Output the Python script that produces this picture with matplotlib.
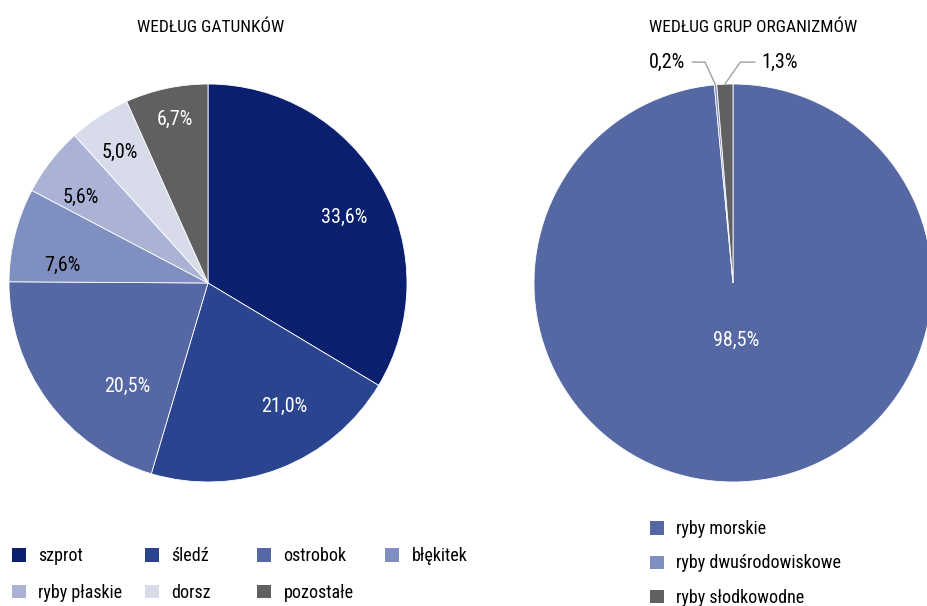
import matplotlib
matplotlib.use("Agg")
import matplotlib.pyplot as plt
from matplotlib import font_manager
import numpy as np

# szukamy czcionki waskiej
nazwy = set(f.name for f in font_manager.fontManager.ttflist)
kandydaci = ['Liberation Sans Narrow', 'Roboto Condensed', 'Open Sans Condensed',
             'DejaVu Sans Condensed', 'Liberation Sans']
czcionka = [k for k in kandydaci if k in nazwy][0]
plt.rcParams['font.family'] = [czcionka, 'DejaVu Sans']
plt.rcParams['font.stretch'] = 'condensed'

# dane - wedlug gatunkow
gatunki = ['szprot', 'śledź', 'ostrobok', 'błękitek', 'ryby płaskie', 'dorsz', 'pozostałe']
gatunki_proc = [33.6, 21.0, 20.5, 7.6, 5.6, 5.0, 6.7]
gatunki_kolory = ['#0b1f6f', '#2a4490', '#5568a3', '#7f8fbf', '#aab3d5', '#d7dbea', '#606060']
gatunki_tekst = ['white', 'white', 'white', 'black', 'black', 'black', 'white']

# dane - wedlug grup organizmow
grupy = ['ryby morskie', 'ryby dwuśrodowiskowe', 'ryby słodkowodne']
grupy_proc = [98.5, 0.2, 1.3]
grupy_kolory = ['#5568a3', '#7f8fbf', '#606060']

W, H = 928, 606
fig = plt.figure(figsize=(W / 100, H / 100), dpi=100)

def fmt(v):
    return ('%.1f%%' % v).replace('.', ',')

R = 199
PAD = 12
def pie_axes(cx, cy):
    s = R + PAD
    return fig.add_axes([(cx - s) / W, (H - cy - s) / H, 2 * s / W, 2 * s / H])

lim = (R + PAD) / R

# lewy wykres
ax1 = pie_axes(208, 283)
w1, _ = ax1.pie(gatunki_proc, colors=gatunki_kolory, startangle=90, counterclock=False,
                wedgeprops=dict(edgecolor='white', linewidth=0.6))
# polozenie etykiet: odleglosc od srodka i przesuniecie kata
dists = [0.76, 0.73, 0.66, 0.74, 0.77, 0.79, 0.84]
przes = [-3.8, 10.3, 15.3, 7.0, 3.9, 1.0, -0.5]
for w, v, d, p, c in zip(w1, gatunki_proc, dists, przes, gatunki_tekst):
    ang = np.deg2rad((w.theta1 + w.theta2) / 2 + p)
    ax1.text(d * np.cos(ang), d * np.sin(ang), fmt(v), ha='center', va='center',
             color=c, fontsize=14.5)
ax1.set_xlim(-lim, lim)
ax1.set_ylim(-lim, lim)
ax1.set_aspect('equal')
fig.text(211 / W, 1 - 27 / H, 'WEDŁUG GATUNKÓW', ha='center', va='center', fontsize=12.5)

# prawy wykres
ax2 = pie_axes(733, 283)
w2, _ = ax2.pie(grupy_proc, colors=grupy_kolory, startangle=90, counterclock=False,
                wedgeprops=dict(edgecolor='white', linewidth=0.6))
ax2.set_xlim(-lim, lim)
ax2.set_ylim(-lim, lim)
ax2.set_aspect('equal')
fig.text(753 / W, 1 - 27 / H, 'WEDŁUG GRUP ORGANIZMÓW', ha='center', va='center', fontsize=12.5)

ang = np.deg2rad((w2[0].theta1 + w2[0].theta2) / 2)
ax2.text(0.29 * np.cos(ang), 0.29 * np.sin(ang), fmt(grupy_proc[0]), ha='center', va='center',
         color='white', fontsize=14.5)
# male wycinki z liniami
for w, v, tx, side, kat in [(w2[1], grupy_proc[1], -0.24, 'right', 115),
                            (w2[2], grupy_proc[2], 0.145, 'left', 55)]:
    a = np.deg2rad((w.theta1 + w.theta2) / 2)
    ax2.annotate(fmt(v), xy=(np.cos(a), np.sin(a)), xytext=(tx, 1.11), ha=side, va='center',
                 fontsize=14.5,
                 arrowprops=dict(arrowstyle='-', color='#a0a0a0', lw=1, shrinkA=3, shrinkB=0,
                                 connectionstyle='angle,angleA=0,angleB=%d' % kat),
                 annotation_clip=False)

# legenda lewa - osobna kolumna dla kazdej pozycji x
kolumny = [[0, 4], [1, 5], [2, 6], [3]]
kol_x = [5, 138, 250, 378]
for idx, x in zip(kolumny, kol_x):
    lg = fig.legend([w1[i] for i in idx], [gatunki[i] for i in idx], loc='upper left',
                    bbox_to_anchor=(x / W, 66 / H), borderaxespad=0, borderpad=0.4,
                    frameon=False, fontsize=13, handlelength=0.75, handleheight=0.75,
                    handletextpad=0.7, labelspacing=1.05)
    for h in lg.legend_handles:
        h.set_edgecolor('none')

leg2 = fig.legend(w2, grupy, loc='upper left', bbox_to_anchor=(643 / W, 93 / H), ncol=1,
                  borderaxespad=0, borderpad=0.4,
                  frameon=False, fontsize=13, handlelength=0.75, handleheight=0.75,
                  handletextpad=0.7, labelspacing=0.9)
for h in leg2.legend_handles:
    h.set_edgecolor('none')

fig.savefig('out.png', dpi=100)
